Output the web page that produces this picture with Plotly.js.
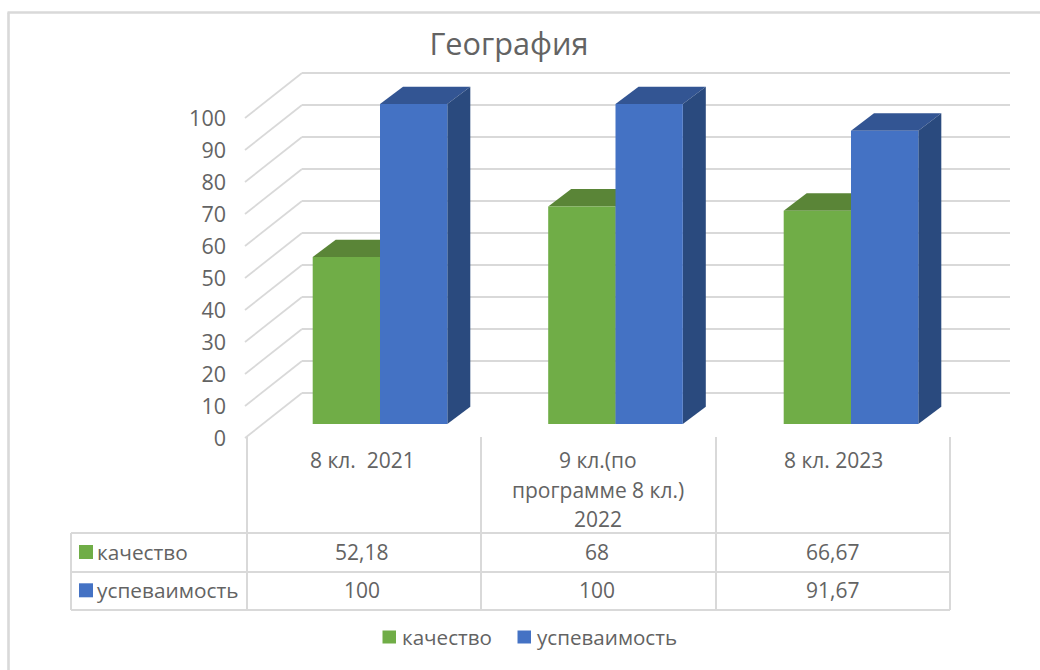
<!DOCTYPE html>
<html><head><meta charset="utf-8">
<script src="https://cdn.plot.ly/plotly-3.0.1.min.js"></script>
<style>html,body{margin:0;padding:0;background:#fff}#c{width:1040px;height:670px}</style>
</head><body><div id="c"></div>
<script>
const chartTitle = 'География';
const categoryLines = [['8 кл.  2021'], ['9 кл.(по', 'программе 8 кл.)', '2022'], ['8 кл. 2023']];
const seriesNames = ['качество', 'успеваимость'];
const kachestvo = [52.18, 68, 66.67];
const uspevaimost = [100, 100, 91.67];
const tableKachestvo = ['52,18', '68', '66,67'];
const tableUspevaimost = ['100', '100', '91,67'];
const yTicks = [0, 10, 20, 30, 40, 50, 60, 70, 80, 90, 100];

const FRONT = ['#70ad47', '#4472c4'];
const TOP = ['#5a8537', '#335593'];
const SIDE = ['#4d7330', '#2a4a7e'];
const GRID = '#d9d9d9', TEXT = '#636363', FONT = '"Open Sans", sans-serif';

const W = 1040, H = 670;
// page-pixel <-> data helpers
const UNIT = 235.5, X0 = 380, Y0 = 424, PY = 3.2;
const dx = px => (px - X0) / UNIT;
const dy = py => (Y0 - py) / PY;
const BAR_W = 67.3 / UNIT;
const DEPTH_X = 23 / UNIT, DEPTH_Y = 17.3 / PY;

const shapes = [];
const pageLine = (x0, y0, x1, y1, w) => shapes.push({type: 'line', layer: 'below', xref: 'x', yref: 'y',
  x0: dx(x0), y0: dy(y0), x1: dx(x1), y1: dy(y1), line: {color: GRID, width: w || 1.8}});
const pageRect = (x0, y0, x1, y1, c) => shapes.push({type: 'rect', layer: 'above', xref: 'x', yref: 'y',
  x0: dx(x0), y0: dy(y0), x1: dx(x1), y1: dy(y1), fillcolor: c, line: {width: 0}});

// outer frame
pageLine(7.5, 12.5, 1040, 12.5, 2.6);
pageLine(8.5, 12.5, 8.5, 670, 2.6);

// back wall grid and floor/side-wall depth lines
yTicks.forEach(t => {
  const yb = 393 - t * PY;
  pageLine(302, yb, 1010, yb);
  pageLine(302, yb, 245, yb + 45);
});

// depth faces of the bars, built from the values
const poly = pts => 'M' + pts.map(p => p.join(',')).join('L') + 'Z';
[kachestvo, uspevaimost].forEach((vals, s) => {
  vals.forEach((v, i) => {
    const l = i + (s - 1) * BAR_W, r = l + BAR_W;
    shapes.push({type: 'path', layer: 'below', xref: 'x', yref: 'y', line: {width: 0}, fillcolor: TOP[s],
      path: poly([[l, v], [r, v], [r + DEPTH_X, v + DEPTH_Y], [l + DEPTH_X, v + DEPTH_Y]])});
    shapes.push({type: 'path', layer: 'below', xref: 'x', yref: 'y', line: {width: 0}, fillcolor: SIDE[s],
      path: poly([[r, 0], [r, v], [r + DEPTH_X, v + DEPTH_Y], [r + DEPTH_X, DEPTH_Y]])});
  });
});

// data table grid
[533, 572, 610].forEach(y => pageLine(71, y, 950, y, 2));
[247, 481, 716, 950].forEach(x => pageLine(x, 437, x, 610, 2));
pageLine(71, 533, 71, 610, 2);

const colX = [362.5, 598, 833.5];
const ann = [];
const pageText = (x, y, text, size, anchor) => ann.push({xref: 'x', yref: 'y', x: dx(x), y: dy(y), text, showarrow: false,
  xanchor: anchor || 'center', yanchor: 'middle', font: {family: FONT, size: size || 21, color: TEXT}});
categoryLines.forEach((lines, i) => lines.forEach((ln, k) => pageText(colX[i], 460 + k * 29.5, ln)));
[tableKachestvo, tableUspevaimost].forEach((row, r) => row.forEach((t, i) => pageText(colX[i] - 1, 551.5 + r * 38.5, t)));
seriesNames.forEach((n, s) => {
  pageRect(79, 545 + s * 38.3, 93, 559 + s * 38.3, FRONT[s]);
  pageText(95, 551.5 + s * 38.5, n, 20.8, 'left');
});
// legend
const legendSwatch = [382.5, 517.5], legendText = [400, 535];
seriesNames.forEach((n, s) => {
  pageRect(legendSwatch[s], 630.5, legendSwatch[s] + 13.5, 643.5, FRONT[s]);
  pageText(legendText[s], 637, n, 20.6, 'left');
});

const traces = [kachestvo, uspevaimost].map((vals, s) => ({
  type: 'bar', name: seriesNames[s], x: [0, 1, 2], y: vals, width: BAR_W,
  offset: (s - 1) * BAR_W, marker: {color: FRONT[s], line: {width: 0}}, hoverinfo: 'name+y'
}));
// invisible trace binding the value-axis labels
traces.push({type: 'scatter', x: [0], y: [0], yaxis: 'y2', mode: 'none', showlegend: false, hoverinfo: 'skip'});

Plotly.newPlot('c', traces, {
  width: W, height: H, margin: {l: 0, r: 0, t: 0, b: 0}, paper_bgcolor: '#fff', plot_bgcolor: 'rgba(0,0,0,0)',
  showlegend: false, barmode: 'overlay',
  title: {text: chartTitle, x: 509 / W, xanchor: 'center', y: 1 - 44 / H, yanchor: 'middle', font: {family: FONT, size: 30.7, color: TEXT}},
  xaxis: {range: [dx(0), dx(W)], visible: false, fixedrange: true},
  yaxis: {range: [dy(H), dy(0)], visible: false, fixedrange: true},
  yaxis2: {overlaying: 'y', anchor: 'free', position: 247 / W, side: 'left',
    range: [(438 - H) / PY, 438 / PY], tickvals: yTicks, ticktext: yTicks.map(String),
    showgrid: false, zeroline: false, showline: false, ticks: '', ticklabelstandoff: 21,
    tickfont: {family: FONT, size: 21.5, color: TEXT}, fixedrange: true},
  shapes, annotations: ann
}, {displayModeBar: false});
</script></body></html>
